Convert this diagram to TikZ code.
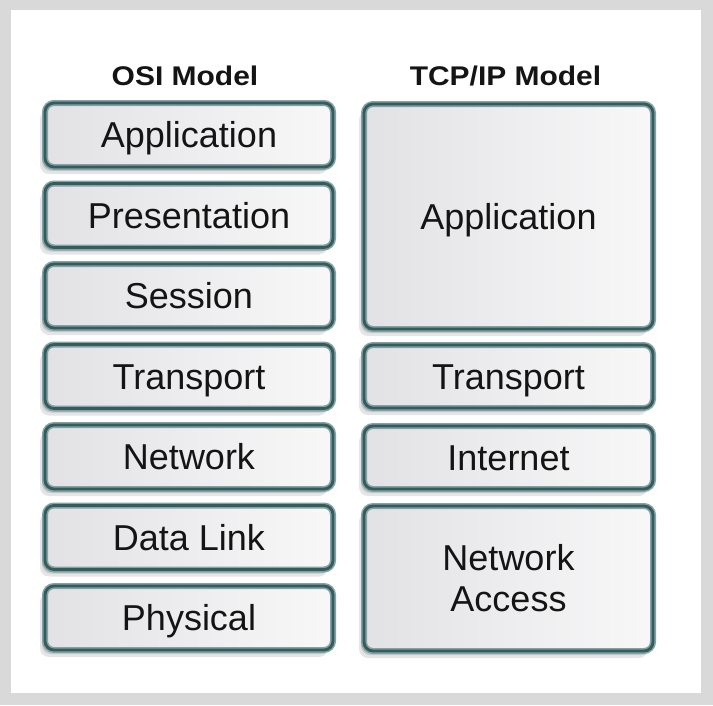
\documentclass[tikz,border=0pt]{standalone}
\usepackage{fontspec}
\setmainfont{Liberation Sans}
\usetikzlibrary{shadows}
\definecolor{framegray}{HTML}{D9D9D9}
\definecolor{tealdark}{HTML}{365B5D}
\definecolor{teallight}{HTML}{83A2A3}
\definecolor{boxgray}{HTML}{E2E2E5}
\definecolor{txt}{HTML}{141414}
\tikzset{
  layerbox/.style={
    draw=teallight, double=tealdark, double distance=2.8pt, line width=1.6pt,
    rounded corners=9pt, inner sep=0pt,
    left color=boxgray, right color=boxgray!25,
    drop shadow={shadow xshift=-5pt, shadow yshift=-7pt, opacity=.10, fill=black},
    drop shadow={shadow xshift=-3pt, shadow yshift=-4pt, opacity=.12, fill=black},
    font=\fontsize{36}{41}\selectfont, text=txt,
    text height=25.8pt, text depth=0pt
  },
  osibox/.style={layerbox, minimum width=288pt, minimum height=64pt},
  tcpbox/.style={layerbox, minimum width=289pt},
  titletext/.style={font=\fontsize{27}{32}\selectfont\bfseries, text=txt, inner sep=0pt}
}
\begin{document}
\begin{tikzpicture}[x=1pt,y=-1pt]
\useasboundingbox (0,0) rectangle (713,705);
\fill[framegray] (0,0) rectangle (713,705);
\fill[white] (11,10) rectangle (701,693);

\node[titletext, anchor=base] (osititle) at (185,85) {\scalebox{1.11}[1]{OSI Model}};
\node[titletext, anchor=base] (tcptitle) at (505.5,85) {\scalebox{1.11}[1]{TCP/IP Model}};

\foreach \t [count=\i from 0] in {Application,Presentation,Session,Transport,Network,Data Link,Physical}
  \node[osibox] (osi\i) at (189,{135+80.5*\i}) {\t};

\node[tcpbox, minimum height=225pt] (tcpapp) at (508.5,216.5) {Application};
\node[tcpbox, minimum height=63pt] (tcptrans) at (508.5,376.5) {Transport};
\node[tcpbox, minimum height=63pt] (tcpint) at (508.5,457.5) {Internet};
\node[tcpbox, minimum height=145pt, align=center, text height=66.8pt, text depth=0pt] (tcpnet) at (508.5,578.5) {Network\\Access};
\end{tikzpicture}
\end{document}
